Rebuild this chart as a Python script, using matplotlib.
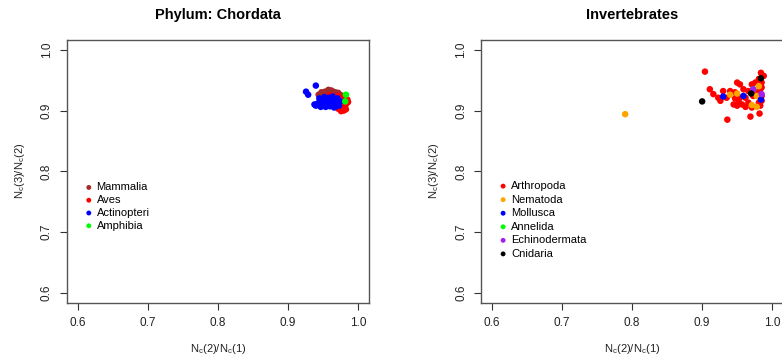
import matplotlib
matplotlib.use("Agg")
import matplotlib.pyplot as plt

plt.rcParams['font.family'] = ['Liberation Sans', 'DejaVu Sans']

# ---- Phylum: Chordata ----
chord_names = ["Mammalia", "Aves", "Actinopteri", "Amphibia"]
chord_colors = ["#A52A2A", "#FF0000", "#0000FF", "#00FF00"]

mammalia_x = [0.944, 0.948, 0.951, 0.953, 0.955, 0.957, 0.958, 0.960, 0.962, 0.963, 0.965,
              0.967, 0.968, 0.970, 0.972, 0.974, 0.976, 0.952, 0.956, 0.961, 0.966, 0.971]
mammalia_y = [0.926, 0.930, 0.928, 0.931, 0.929, 0.932, 0.934, 0.930, 0.933, 0.929, 0.931,
              0.928, 0.930, 0.927, 0.929, 0.926, 0.925, 0.924, 0.925, 0.926, 0.924, 0.923]

aves_x = [0.960, 0.965, 0.968, 0.972, 0.975, 0.977, 0.978, 0.980, 0.982, 0.984, 0.985,
          0.983, 0.976, 0.972, 0.986, 0.979, 0.981]
aves_y = [0.925, 0.922, 0.918, 0.924, 0.920, 0.913, 0.905, 0.900, 0.908, 0.912, 0.918,
          0.902, 0.899, 0.903, 0.914, 0.910, 0.921]

actino_x = [0.940, 0.926, 0.929, 0.940, 0.938, 0.945, 0.948, 0.950, 0.952, 0.954, 0.955,
            0.957, 0.958, 0.960, 0.962, 0.963, 0.965, 0.966, 0.968, 0.970, 0.971, 0.973,
            0.975, 0.947, 0.953, 0.959, 0.964, 0.969, 0.943]
actino_y = [0.941, 0.931, 0.926, 0.908, 0.910, 0.920, 0.915, 0.910, 0.922, 0.906, 0.917,
            0.912, 0.921, 0.907, 0.915, 0.919, 0.910, 0.905, 0.916, 0.912, 0.920, 0.908,
            0.915, 0.906, 0.913, 0.917, 0.923, 0.907, 0.912]

amphibia_x = [0.983, 0.982]
amphibia_y = [0.926, 0.915]

# ---- Invertebrates ----
inv_names = ["Arthropoda", "Nematoda", "Mollusca", "Annelida", "Echinodermata", "Cnidaria"]
inv_colors = ["#FF0000", "#FFA500", "#0000FF", "#00FF00", "#A020F0", "#000000"]

arthro_x = [0.904, 0.936, 0.969, 0.982, 0.911, 0.916, 0.923, 0.926, 0.940, 0.950, 0.954,
            0.959, 0.962, 0.954, 0.947, 0.945, 0.950, 0.957, 0.962, 0.966, 0.971, 0.976,
            0.981, 0.985, 0.983, 0.985, 0.981, 0.983, 0.930, 0.935, 0.947, 0.966, 0.973,
            0.978, 0.985, 0.985, 0.952, 0.971, 0.988, 0.984]
arthro_y = [0.964, 0.885, 0.890, 0.895, 0.935, 0.927, 0.921, 0.916, 0.932, 0.946, 0.943,
            0.935, 0.921, 0.921, 0.920, 0.910, 0.908, 0.910, 0.906, 0.913, 0.943, 0.946,
            0.952, 0.946, 0.935, 0.916, 0.913, 0.908, 0.932, 0.921, 0.930, 0.932, 0.924,
            0.930, 0.938, 0.924, 0.916, 0.905, 0.957, 0.962]

nema_x = [0.790, 0.981, 0.978, 0.940, 0.950, 0.971, 0.978]
nema_y = [0.894, 0.940, 0.924, 0.926, 0.928, 0.909, 0.906]

moll_x = [0.930, 0.959, 0.984]
moll_y = [0.923, 0.924, 0.918]

anne_x = [0.973]
anne_y = [0.935]

echi_x = [0.973, 0.985]
echi_y = [0.935, 0.927]

cnid_x = [0.900, 0.984, 0.970]
cnid_y = [0.915, 0.953, 0.928]

fig = plt.figure(figsize=(7.82, 3.58), dpi=100)
ax1 = fig.add_axes([0.0853, 0.1545, 0.3866, 0.7338])
ax2 = fig.add_axes([0.6151, 0.1545, 0.3866, 0.7338])

chord_series = [(mammalia_x, mammalia_y), (aves_x, aves_y),
                (actino_x, actino_y), (amphibia_x, amphibia_y)]
inv_series = [(arthro_x, arthro_y), (nema_x, nema_y), (moll_x, moll_y),
              (anne_x, anne_y), (echi_x, echi_y), (cnid_x, cnid_y)]

ticks = [0.6, 0.7, 0.8, 0.9, 1.0]


def style(ax, title, series, names, colors, leg_anchor, spacing):
    for (x, y), name, col in zip(series, names, colors):
        ax.scatter(x, y, s=22, color=col, edgecolors='none', label=name)
    ax.set_xlim(0.584, 1.016)
    ax.set_ylim(0.584, 1.016)
    ax.set_xticks(ticks)
    ax.set_yticks(ticks)
    ax.set_xticklabels(["%.1f" % t for t in ticks])
    ax.set_yticklabels(["%.1f" % t for t in ticks], rotation=90, va='center')
    ax.tick_params(length=5, width=0.8, color='#333333', labelsize=8.5,
                  labelcolor='#222222', pad=5)
    for sp in ax.spines.values():
        sp.set_color('#555555')
        sp.set_linewidth(1.0)
    ax.set_title(title, fontsize=10.5, fontweight='bold', pad=15)
    ax.set_xlabel(r'N$_\mathregular{c}$(2)/N$_\mathregular{c}$(1)', fontsize=8,
                  labelpad=10, color='#222222')
    ax.set_ylabel(r'N$_\mathregular{c}$(3)/N$_\mathregular{c}$(2)', fontsize=8,
                  labelpad=10, color='#222222')
    ax.legend(loc='upper left', bbox_to_anchor=leg_anchor, frameon=False,
              fontsize=8, handletextpad=0.2, labelspacing=spacing, markerscale=0.75,
              borderaxespad=0, handlelength=1.0)


style(ax1, "Phylum: Chordata", chord_series, chord_names, chord_colors, (0.04, 0.475), 0.25)
style(ax2, "Invertebrates", inv_series, inv_names, inv_colors, (0.04, 0.48), 0.32)

fig.savefig("out.png", dpi=100)
